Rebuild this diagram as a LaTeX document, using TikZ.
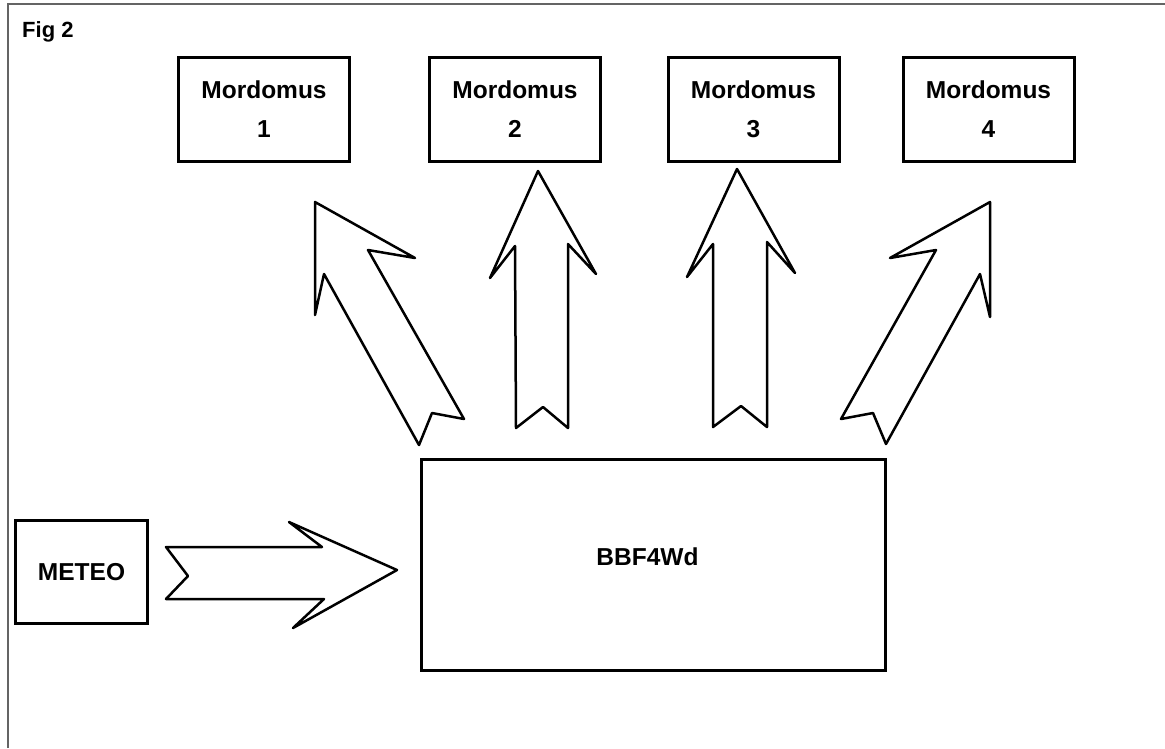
\documentclass[tikz,border=0pt]{standalone}
\usepackage{fontspec}
\setmainfont{Liberation Sans}
\begin{document}
\begin{tikzpicture}[x=1pt,y=-1pt]
\definecolor{framegray}{RGB}{100,100,100}
\tikzset{
  boxline/.style={draw=black,line width=3pt},
  mbox/.style={boxline,minimum width=171pt,minimum height=104pt,inner sep=0pt,
    align=center,font=\fontsize{24.5}{39}\selectfont\bfseries},
  bigarrow/.style={draw=black,line width=2.5pt,line join=round,fill=white},
  frameline/.style={draw=framegray,line width=2pt},
  lbl/.style={font=\fontsize{24.5}{28}\selectfont\bfseries,inner sep=0pt}
}
\useasboundingbox (0,0) rectangle (1165,748);
\fill[white] (0,0) rectangle (1165,748);
% frame
\coordinate (fb) at (8,748);
\coordinate (fc) at (8,4);
\coordinate (fr) at (1165,4);
\draw[frameline] (fb) -- (fc) -- (fr);
\node[anchor=base west,font=\fontsize{22}{26}\selectfont\bfseries,inner sep=0pt] (fig) at (22,37) {Fig 2};
% Mordomus boxes
\node[mbox] (m1) at (264,109.5) {Mordomus\\1};
\node[mbox] (m2) at (515,109.5) {Mordomus\\2};
\node[mbox] (m3) at (753.5,109.5) {Mordomus\\3};
\node[mbox] (m4) at (988.5,109.5) {Mordomus\\4};
% METEO
\node[boxline,lbl,minimum width=132pt,minimum height=103pt] (meteo) at (81.5,572) {METEO};
% BBF4Wd
\node[boxline,lbl,minimum width=464pt,minimum height=211pt,text height=10pt,text depth=10pt] (bb) at (653.5,565) {BBF4Wd\hspace*{12pt}};
% block arrows
\draw[bigarrow] (315,202) -- (415,258) -- (368,250) -- (464,419) -- (432,413) -- (419,445) -- (324,274) -- (315,315) -- cycle;
\draw[bigarrow] (538,171) -- (596,274) -- (568,244) -- (568,428) -- (543,407) -- (516,428) -- (515,246) -- (490,278) -- cycle;
\draw[bigarrow] (737,169) -- (795,273) -- (767,242) -- (767,427) -- (741,406) -- (713,427) -- (713,244) -- (687,277) -- cycle;
\draw[bigarrow] (990,202) -- (990,317) -- (980,274) -- (886,444) -- (873,413) -- (841,419) -- (936,250) -- (890,258) -- cycle;
\draw[bigarrow] (166,547) -- (322,547) -- (289,522) -- (397,570) -- (293,628) -- (324,599) -- (166,599) -- (188,576) -- cycle;
\end{tikzpicture}
\end{document}
